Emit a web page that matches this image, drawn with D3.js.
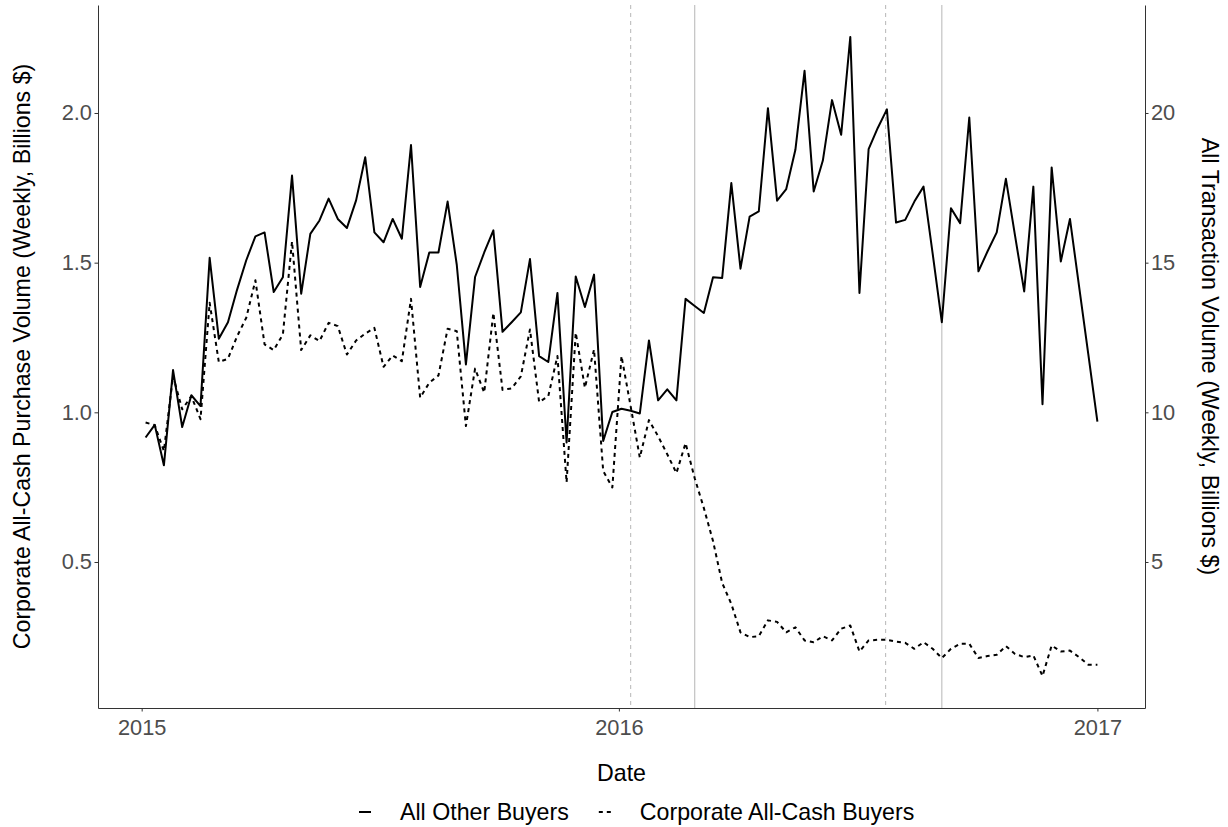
<!DOCTYPE html>
<html>
<head>
<meta charset="utf-8">
<script src="https://cdn.jsdelivr.net/npm/d3@7"></script>
<style>
  body { margin: 0; background: #fff; }
  svg { display: block; font-family: "Liberation Sans", Arial, Helvetica, sans-serif; }
  .axis .tick text { fill: #4d4d4d; font-size: 21.8px; }
  .axis .tick line, .axis .domain { stroke: #333; stroke-width: 1; }
  .title { fill: #000; font-size: 23.2px; }
  .legendText { fill: #000; font-size: 23.2px; }
</style>
</head>
<body>
<svg id="chart" width="1228" height="827"></svg>
<script>
// weekly series, first week starting 2015-01-04
var FIRST_WEEK = "2015-01-04";

// All Other Buyers, billions $ (right axis)
var allOtherBuyers = [
	9.16, 9.58, 8.23, 11.41, 9.51, 10.57, 10.21, 15.16, 12.46, 13.01,
	14.1, 15.08, 15.88, 16.01, 14.02, 14.51, 17.91, 13.96, 15.96, 16.41,
	17.14, 16.46, 16.16, 17.08, 18.52, 16.01, 15.68, 16.46, 15.8, 18.93,
	14.19, 15.34, 15.34, 17.04, 14.93, 11.6, 14.52, 15.34, 16.08, 12.69,
	13.01, 13.34, 15.12, 11.88, 11.68, 13.99, 8.99, 14.54, 13.52, 14.6,
	9.04, 10.01, 10.12, 10.05, 9.96, 12.4, 10.4, 10.77, 10.4, 13.79,
	13.55, 13.32, 14.51, 14.49, 17.66, 14.8, 16.54, 16.71, 20.16, 17.07,
	17.46, 18.77, 21.41, 17.38, 18.41, 20.43, 19.27, 22.54, 13.99, 18.79,
	19.5, 20.12, 16.34, 16.43, 17.04, 17.54, 15.3, 13.01, 16.82, 16.32,
	19.85, 14.71, 15.38, 16.01, 17.8, 15.9, 14.04, 17.54, 10.27, 18.18,
	15.04, 16.46, 14.2, 11.95, 9.69
];

// Corporate All-Cash Buyers, billions $ (left axis)
var corporateCash = [
	0.966, 0.957, 0.871, 1.121, 1.01, 1.054, 0.977, 1.366, 1.168, 1.179,
	1.254, 1.316, 1.441, 1.227, 1.208, 1.26, 1.571, 1.208, 1.257, 1.238,
	1.299, 1.288, 1.193, 1.24, 1.263, 1.282, 1.152, 1.19, 1.171, 1.379,
	1.049, 1.099, 1.123, 1.279, 1.271, 0.954, 1.146, 1.066, 1.332, 1.075,
	1.08, 1.12, 1.277, 1.034, 1.054, 1.188, 0.766, 1.266, 1.082, 1.21,
	0.804, 0.749, 1.188, 1.02, 0.849, 0.974, 0.92, 0.86, 0.797, 0.897,
	0.78, 0.68, 0.57, 0.43, 0.36, 0.265, 0.249, 0.252, 0.305, 0.30,
	0.265, 0.282, 0.238, 0.232, 0.252, 0.238, 0.277, 0.288, 0.201, 0.238,
	0.24, 0.24, 0.234, 0.23, 0.21, 0.232, 0.21, 0.179, 0.21, 0.227,
	0.227, 0.179, 0.186, 0.19, 0.219, 0.193, 0.182, 0.188, 0.119, 0.221,
	0.201, 0.204, 0.182, 0.157, 0.157
];

var seriesNames = ["All Other Buyers", "Corporate All-Cash Buyers"];
var xTickDates = ["2015-01-01", "2016-01-01", "2017-01-01"];
var leftTicks = [0.5, 1.0, 1.5, 2.0];
var rightTicks = [5, 10, 15, 20];
var eventDates = ["2016-01-10", "2016-02-28", "2016-07-23", "2016-09-04"];
var eventKinds = ["announced", "effective", "announced", "effective"];

var SEC_RATIO = 10;
var PANEL = {left: 98, right: 1145, top: 5, bottom: 708};
var TICK_LEN = 3.5;
var LINE_WIDTH = 2;
var EVENT_COLOR = "#bdbdbd";
var LEGEND = {y: 812, start: 359, keyWidth: 12, textGap: 41, itemGap: 30};

var parseDay = d3.utcParse("%Y-%m-%d");
var weekStart = parseDay(FIRST_WEEK);
var weeks = allOtherBuyers.map(function(v, i) { return d3.utcDay.offset(weekStart, 7 * i); });

var svg = d3.select("#chart");

// ggplot style 5% expansion on both scales
var span = weeks[weeks.length - 1] - weeks[0];
var x = d3.scaleUtc()
	.domain([new Date(+weeks[0] - 0.05 * span), new Date(+weeks[weeks.length - 1] + 0.05 * span)])
	.range([PANEL.left, PANEL.right]);

var allLeft = corporateCash.concat(allOtherBuyers.map(function(v) { return v / SEC_RATIO; }));
var yExt = d3.extent(allLeft);
var yPad = 0.05 * (yExt[1] - yExt[0]);
var y = d3.scaleLinear()
	.domain([yExt[0] - yPad, yExt[1] + yPad])
	.range([PANEL.bottom, PANEL.top]);
var yRight = d3.scaleLinear()
	.domain(y.domain().map(function(d) { return d * SEC_RATIO; }))
	.range(y.range());

// event lines
svg.append("g").selectAll("line")
	.data(eventDates)
	.enter().append("line")
	.attr("x1", function(d) { return x(parseDay(d)); })
	.attr("x2", function(d) { return x(parseDay(d)); })
	.attr("y1", PANEL.top)
	.attr("y2", PANEL.bottom)
	.attr("stroke", EVENT_COLOR)
	.attr("stroke-width", 1.1)
	.attr("stroke-dasharray", function(d, i) { return eventKinds[i] == "announced" ? "4,4" : null; });

// series
var otherLine = d3.line()
	.x(function(d, i) { return x(weeks[i]); })
	.y(function(d) { return yRight(d); });

var cashLine = d3.line()
	.x(function(d, i) { return x(weeks[i]); })
	.y(function(d) { return y(d); });

svg.append("path")
	.datum(allOtherBuyers)
	.attr("d", otherLine)
	.attr("fill", "none")
	.attr("stroke", "#000")
	.attr("stroke-width", LINE_WIDTH)
	.attr("stroke-linejoin", "round");

svg.append("path")
	.datum(corporateCash)
	.attr("d", cashLine)
	.attr("fill", "none")
	.attr("stroke", "#000")
	.attr("stroke-width", LINE_WIDTH)
	.attr("stroke-linejoin", "round")
	.attr("stroke-dasharray", "4,4");

// axes
svg.append("g")
	.attr("class", "axis")
	.attr("transform", "translate(" + PANEL.left + ",0)")
	.call(d3.axisLeft(y).tickValues(leftTicks).tickFormat(d3.format(".1f"))
		.tickSizeInner(TICK_LEN).tickSizeOuter(0).tickPadding(2.5));

svg.append("g")
	.attr("class", "axis")
	.attr("transform", "translate(" + PANEL.right + ",0)")
	.call(d3.axisRight(yRight).tickValues(rightTicks).tickFormat(d3.format("d"))
		.tickSizeInner(TICK_LEN).tickSizeOuter(0).tickPadding(2.5));

svg.append("g")
	.attr("class", "axis")
	.attr("transform", "translate(0," + PANEL.bottom + ")")
	.call(d3.axisBottom(x).tickValues(xTickDates.map(parseDay)).tickFormat(d3.utcFormat("%Y"))
		.tickSizeInner(TICK_LEN).tickSizeOuter(0).tickPadding(8.5));

svg.selectAll(".axis").attr("font-family", null).attr("font-size", null);

// titles
var midX = (PANEL.left + PANEL.right) / 2;
var midY = (PANEL.top + PANEL.bottom) / 2;

svg.append("text")
	.attr("class", "title")
	.attr("x", midX)
	.attr("y", 781)
	.attr("text-anchor", "middle")
	.text("Date");

svg.append("text")
	.attr("class", "title")
	.attr("transform", "translate(30," + midY + ") rotate(-90)")
	.attr("text-anchor", "middle")
	.text("Corporate All-Cash Purchase Volume (Weekly, Billions $)");

svg.append("text")
	.attr("class", "title")
	.attr("transform", "translate(1202," + midY + ") rotate(90)")
	.attr("text-anchor", "middle")
	.text("All Transaction Volume (Weekly, Billions $)");

// legend
var legend = svg.append("g");
var cursor = LEGEND.start;
seriesNames.forEach(function(name, i) {
	legend.append("line")
		.attr("x1", cursor)
		.attr("x2", cursor + LEGEND.keyWidth)
		.attr("y1", LEGEND.y)
		.attr("y2", LEGEND.y)
		.attr("stroke", "#000")
		.attr("stroke-width", LINE_WIDTH)
		.attr("stroke-dasharray", i == 1 ? "4,4" : null);

	var label = legend.append("text")
		.attr("class", "legendText")
		.attr("x", cursor + LEGEND.textGap)
		.attr("y", LEGEND.y + 8)
		.text(name);

	cursor = cursor + LEGEND.textGap + label.node().getComputedTextLength() + LEGEND.itemGap;
});
</script>
</body>
</html>
